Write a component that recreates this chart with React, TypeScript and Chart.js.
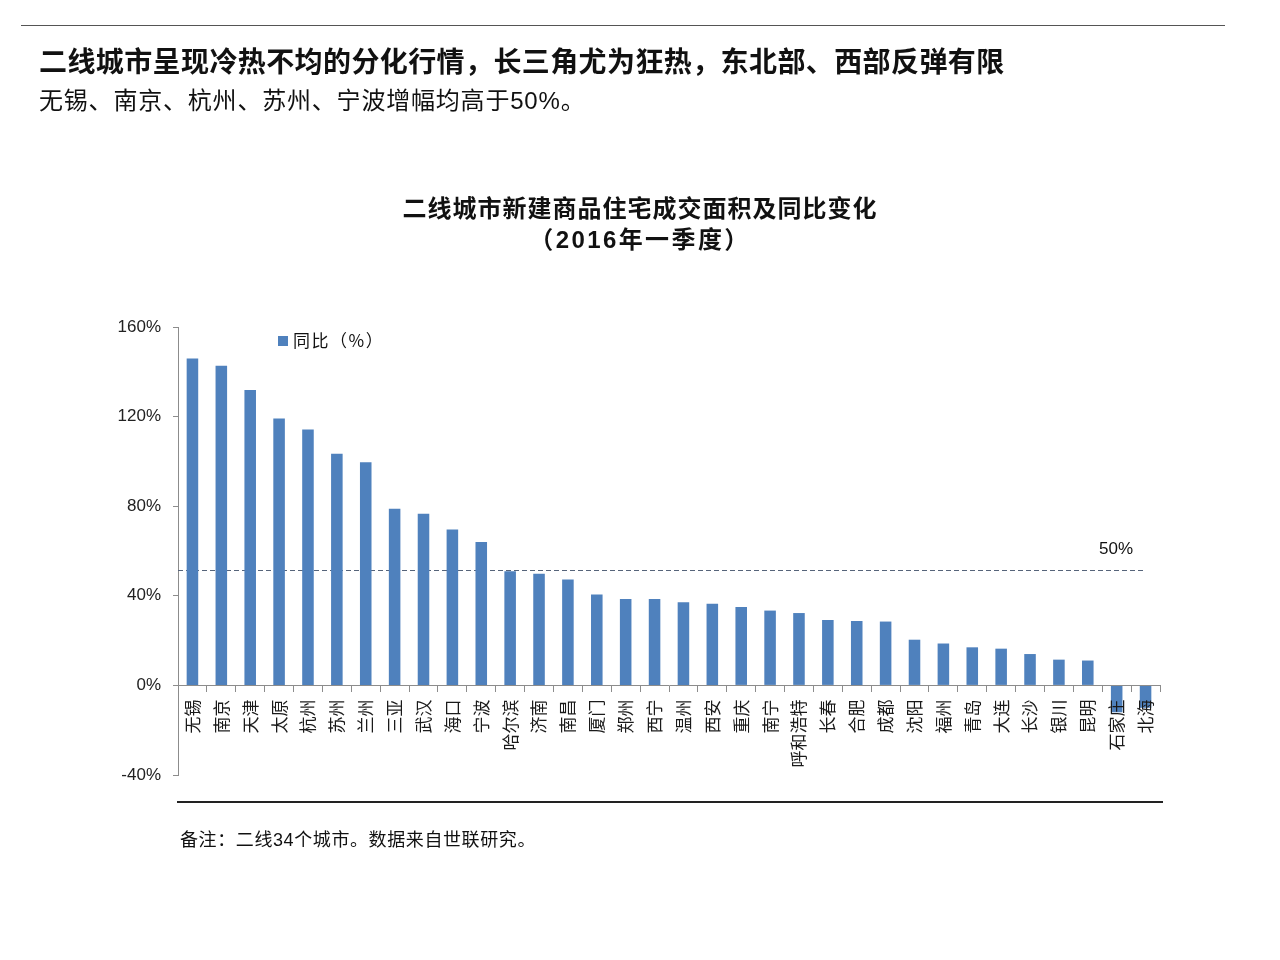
import React, { useEffect, useRef } from "react";
import { Chart, registerables } from "chart.js";

Chart.register(...registerables);

const categories = [
  "无锡", "南京", "天津", "太原", "杭州", "苏州", "兰州", "三亚", "武汉", "海口",
  "宁波", "哈尔滨", "济南", "南昌", "厦门", "郑州", "西宁", "温州", "西安", "重庆",
  "南宁", "呼和浩特", "长春", "合肥", "成都", "沈阳", "福州", "青岛", "大连", "长沙",
  "银川", "昆明", "石家庄", "北海",
];
const yoyValues = [
  145.9, 142.7, 131.9, 119.1, 114.2, 103.4, 99.6, 78.9, 76.6, 69.6,
  64.0, 51.0, 49.8, 47.3, 40.6, 38.6, 38.6, 37.1, 36.4, 35.0,
  33.4, 32.3, 29.2, 28.8, 28.5, 20.4, 18.7, 17.0, 16.4, 14.0,
  11.5, 11.1, -12, -10,
];
const yTicks = [-40, 0, 40, 80, 120, 160];
const referenceValue = 51.3;
const referenceLabel = "50%";
const seriesName = "同比（%）";

const pageTitle = "二线城市呈现冷热不均的分化行情，长三角尤为狂热，东北部、西部反弹有限";
const pageSubtitle = "无锡、南京、杭州、苏州、宁波增幅均高于50%。";
const chartTitle1 = "二线城市新建商品住宅成交面积及同比变化";
const chartTitle2 = "（2016年一季度）";
const footNote = "备注：二线34个城市。数据来自世联研究。";

const FONT = "'Liberation Sans', 'Noto Sans CJK SC', sans-serif";
const CJK = "'Noto Sans CJK SC', 'Liberation Sans', sans-serif";
const BAR_COLOR = "#4f81bd";
const AXIS_COLOR = "#8c8c8c";

const overlayPlugin = {
  id: "overlay",
  beforeDatasetsDraw(chart: any) {
    const { ctx, chartArea, scales } = chart;
    const y = scales.y.getPixelForValue(referenceValue);
    ctx.save();
    ctx.strokeStyle = "#56647a";
    ctx.lineWidth = 1;
    ctx.setLineDash([5, 3]);
    ctx.beginPath();
    ctx.moveTo(chartArea.left, Math.round(y) + 0.5);
    ctx.lineTo(chartArea.right - 17, Math.round(y) + 0.5);
    ctx.stroke();
    ctx.restore();
  },
  afterDraw(chart: any) {
    const { ctx, chartArea, scales } = chart;
    const y = scales.y.getPixelForValue(referenceValue);
    ctx.save();
    ctx.fillStyle = "#111";
    ctx.font = "17px " + FONT;
    ctx.textAlign = "right";
    ctx.textBaseline = "middle";
    ctx.fillText(referenceLabel, chartArea.right - 27, y - 21);
    // legend
    const lx = chartArea.left + 100;
    const ly = chartArea.top + 14;
    ctx.fillStyle = BAR_COLOR;
    ctx.fillRect(lx, ly - 5, 10, 10);
    ctx.fillStyle = "#111";
    ctx.textAlign = "left";
    ctx.font = "17px " + CJK;
    try {
      (ctx as any).letterSpacing = "1.5px";
    } catch (e) {}
    ctx.fillText(seriesName, lx + 15, ly);
    ctx.restore();
  },
};

export default function App() {
  const canvasRef = useRef<HTMLCanvasElement | null>(null);

  useEffect(() => {
    if (!canvasRef.current) return;
    Chart.defaults.font.family = FONT;
    const chart = new Chart(canvasRef.current, {
      type: "bar",
      data: {
        labels: categories,
        datasets: [
          {
            label: seriesName,
            data: yoyValues,
            backgroundColor: BAR_COLOR,
            borderWidth: 0,
            barPercentage: 0.4,
            categoryPercentage: 1,
          },
        ],
      },
      options: {
        responsive: false,
        animation: false,
        layout: { padding: { left: 100, right: 120, top: 327, bottom: 185 } },
        plugins: {
          legend: { display: false },
          tooltip: { enabled: false },
          title: { display: false },
        },
        scales: {
          x: {
            position: { y: 0 } as any,
            grid: {
              display: true,
              drawOnChartArea: false,
              drawTicks: true,
              tickLength: 6,
              color: AXIS_COLOR,
              offset: true,
              z: 1,
            },
            border: { display: true, color: AXIS_COLOR, width: 1, z: 1 },
            ticks: {
              minRotation: 90,
              maxRotation: 90,
              autoSkip: false,
              padding: 8,
              color: "#1a1a1a",
              z: 2,
              font: { size: 17, family: CJK },
            },
            afterFit: (s: any) => {
              s.height = 0;
            },
          },
          y: {
            min: -40,
            max: 160,
            afterBuildTicks: (s: any) => {
              s.ticks = yTicks.map((v) => ({ value: v }));
            },
            ticks: {
              callback: (v: any) => v + "%",
              padding: 12,
              color: "#222",
              font: { size: 17, family: FONT },
            },
            grid: {
              drawOnChartArea: false,
              drawTicks: true,
              tickLength: 5,
              color: AXIS_COLOR,
            },
            border: { display: true, color: AXIS_COLOR, width: 1 },
            afterFit: (s: any) => {
              s.width = 78;
            },
          },
        },
      },
      plugins: [overlayPlugin],
    });
    return () => chart.destroy();
  }, []);

  const abs = (style: React.CSSProperties): React.CSSProperties => ({
    position: "absolute",
    whiteSpace: "nowrap",
    ...style,
  });

  return (
    <div
      style={{
        position: "absolute",
        left: 0,
        top: 0,
        width: 1280,
        height: 960,
        background: "#fff",
        fontFamily: FONT,
        color: "#111",
        overflow: "hidden",
      }}
    >
      <canvas ref={canvasRef} width={1280} height={960} style={{ position: "absolute", left: 0, top: 0 }} />
      <div style={abs({ left: 21, top: 25, width: 1204, height: 0, borderTop: "1.5px solid #555" })} />
      <div style={abs({ left: 39, top: 43, fontSize: 28, lineHeight: "34px", fontWeight: "bold", fontFamily: CJK, letterSpacing: "0.4px" })}>
        {pageTitle}
      </div>
      <div style={abs({ left: 39, top: 87, fontSize: 24, lineHeight: "28px", letterSpacing: "0.8px" })}>
        {pageSubtitle}
      </div>
      <div style={abs({ left: 0, width: 1280, top: 194, fontSize: 24, lineHeight: "30px", fontWeight: "bold", textAlign: "center", letterSpacing: "1px" })}>
        {chartTitle1}
      </div>
      <div style={abs({ left: 0, width: 1280, top: 225, fontSize: 24, lineHeight: "30px", fontWeight: "bold", textAlign: "center", letterSpacing: "2.4px" })}>
        {chartTitle2}
      </div>
      <div style={abs({ left: 177, top: 801, width: 986, height: 0, borderTop: "2px solid #222" })} />
      <div style={abs({ left: 180, top: 829, fontSize: 18, lineHeight: "22px", letterSpacing: "0.6px" })}>{footNote}</div>
    </div>
  );
}
